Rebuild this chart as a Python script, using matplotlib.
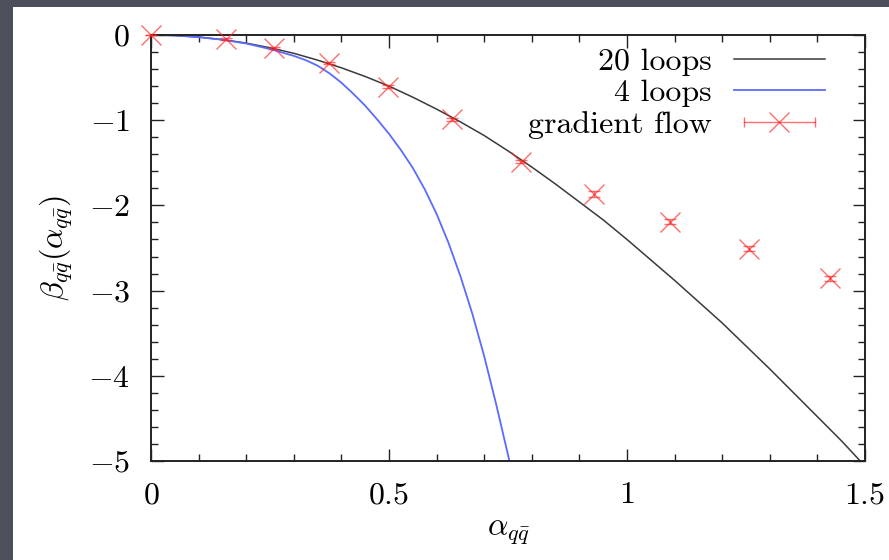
import matplotlib
matplotlib.use("Agg")
import matplotlib.pyplot as plt
from matplotlib.lines import Line2D
from matplotlib.patches import Rectangle
from matplotlib.legend_handler import HandlerLine2D
from matplotlib.ticker import MultipleLocator, FuncFormatter

# 20-loop beta function
x20 = [0.0, 0.05, 0.1, 0.15, 0.2, 0.25, 0.3, 0.35, 0.4, 0.45, 0.5, 0.55, 0.6,
       0.65, 0.7, 0.75, 0.8, 0.85, 0.9, 0.95, 1.0, 1.05, 1.1, 1.15, 1.2, 1.25,
       1.3, 1.35, 1.4, 1.45, 1.49]
b20 = [0.0, -0.006, -0.024, -0.054, -0.095, -0.15, -0.215, -0.295, -0.385,
       -0.487, -0.60, -0.73, -0.87, -1.02, -1.18, -1.36, -1.55, -1.75, -1.96,
       -2.17, -2.40, -2.64, -2.88, -3.13, -3.38, -3.65, -3.92, -4.20, -4.48,
       -4.76, -5.0]

# 4-loop beta function
x4 = [0.0, 0.05, 0.1, 0.15, 0.2, 0.25, 0.3, 0.325, 0.35, 0.375, 0.4, 0.425,
      0.45, 0.475, 0.5, 0.525, 0.55, 0.575, 0.6, 0.625, 0.65, 0.675, 0.7,
      0.725, 0.753]
b4 = [0.0, -0.006, -0.025, -0.056, -0.10, -0.165, -0.245, -0.295, -0.36,
      -0.45, -0.56, -0.69, -0.83, -0.99, -1.16, -1.35, -1.56, -1.81, -2.10,
      -2.44, -2.83, -3.27, -3.77, -4.33, -5.0]

# gradient flow points
xgf = [0.0, 0.157, 0.259, 0.374, 0.497, 0.633, 0.777, 0.931, 1.090, 1.256, 1.426]
bgf = [0.0, -0.05, -0.156, -0.325, -0.607, -0.99, -1.487, -1.866, -2.19, -2.51, -2.856]
egf = [0.0, 0.01, 0.01, 0.01, 0.015, 0.02, 0.02, 0.03, 0.03, 0.03, 0.03]

plt.rcParams["font.family"] = "serif"
plt.rcParams["font.serif"] = ["cmr10"]
plt.rcParams["mathtext.fontset"] = "cm"
plt.rcParams["axes.formatter.use_mathtext"] = True

FS = 23
RED = "#ff2020"

fig = plt.figure(figsize=(8.89, 5.60), dpi=100)
fig.patch.set_facecolor("#4b505b")
fig.add_artist(Rectangle((13 / 889, 0), 1, 553 / 560, transform=fig.transFigure,
                         facecolor="white", edgecolor="none", zorder=0))

ax = fig.add_axes([151 / 889, 99 / 560, 714 / 889, 426 / 560])
ax.set_zorder(1)

ax.plot(x20, b20, color="#3a3a3a", lw=1.1)
ax.plot(x4, b4, color="#5b6bff", lw=1.3)
ax.errorbar(xgf, bgf, yerr=egf, fmt="x", color=RED, ms=15, mew=1.0, alpha=0.65,
            elinewidth=1.0, capsize=4, clip_on=False, zorder=3)

ax.set_xlim(0, 1.5)
ax.set_ylim(-5, 0)
ax.xaxis.set_major_locator(MultipleLocator(0.5))
ax.xaxis.set_minor_locator(MultipleLocator(0.1))
ax.yaxis.set_major_locator(MultipleLocator(1))
ax.yaxis.set_minor_locator(MultipleLocator(0.2))
fmt = FuncFormatter(lambda v, p: f"${v:g}$")
ax.xaxis.set_major_formatter(fmt)
ax.yaxis.set_major_formatter(fmt)
ax.tick_params(which="both", direction="in", top=True, right=True,
               labelsize=FS, pad=15, width=1.0, color="#222222")
ax.tick_params(which="major", length=9)
ax.tick_params(which="minor", length=5)
for s in ax.spines.values():
    s.set_linewidth(1.4)
    s.set_color("#222222")

ax.set_xlabel(r"$\alpha_{q\bar{q}}$", fontsize=FS)
ax.set_ylabel(r"$\beta_{q\bar{q}}(\alpha_{q\bar{q}})$", fontsize=FS)
ax.xaxis.set_label_coords(0.5, -0.135)
ax.yaxis.set_label_coords(-0.106, 0.5)

h20 = Line2D([], [], color="#3a3a3a", lw=1.1)
h4 = Line2D([], [], color="#5b6bff", lw=1.3)
hcap = Line2D([], [], color=RED, lw=1.0, marker="|", ms=7, mew=1.0, alpha=0.65)
hx = Line2D([], [], color=RED, ls="none", marker="x", ms=15, mew=1.0, alpha=0.65)
ax.legend([h20, h4, (hcap, hx)], ["20 loops", "4 loops", "gradient flow"],
          handler_map={hcap: HandlerLine2D(numpoints=2)},
          loc="upper right", bbox_to_anchor=(0.944, 0.971), frameon=False,
          markerfirst=False, fontsize=FS, handlelength=2.85, handletextpad=0.7,
          labelspacing=0.1, borderpad=0, borderaxespad=0)

fig.savefig("out.png", dpi=100, facecolor=fig.get_facecolor())
